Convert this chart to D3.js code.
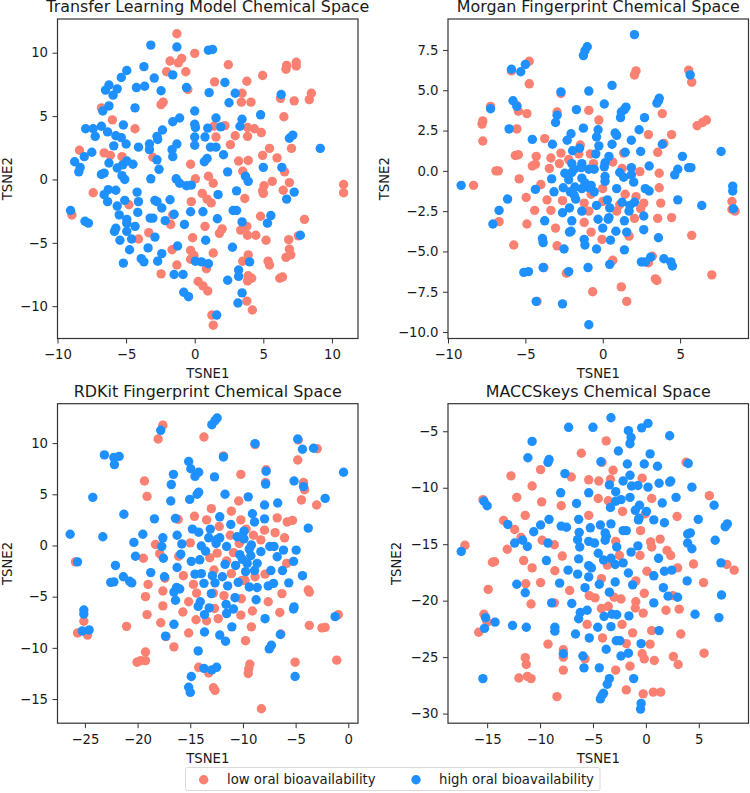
<!DOCTYPE html>
<html>
<head>
<meta charset="utf-8">
<script src="https://cdn.jsdelivr.net/npm/d3@7"></script>
<style>
html, body { margin: 0; padding: 0; background: #fff; }
svg { display: block; }
text { font-family: "DejaVu Sans", sans-serif; fill: #1a1a1a; }
</style>
</head>
<body>
<svg id="chart" width="750" height="793"></svg>
<script>
// Values, each point is [TSNE1, TSNE2]
var seriesNames = ["low oral bioavailability", "high oral bioavailability"];
var seriesColors = ["#fa8072", "#1e90ff"];
var titles = ["Transfer Learning Model Chemical Space", "Morgan Fingerprint Chemical Space", "RDKit Fingerprint Chemical Space", "MACCSkeys Chemical Space"];

var transferLow = [[-1.3,11.5],[0,9.95],[-1.8,9.35],[-1.2,9.2],[-0.95,9.55],[-2.05,8.5],[-0.65,8.5],[2.45,9.05],[6.7,9],[6.65,8.7],[7.4,9.25],[7.4,8.95],[4.95,8.2],[1.45,7.7],[3.8,7.75],[-0.5,7.1],[3.45,6.8],[3.4,6.1],[4.1,6.1],[8.5,6.8],[8.35,6.3],[7.25,6.2],[6.25,6.4],[-2.3,6.1],[-2.45,5.9],[-6.8,5.65],[-6,4.7],[6.5,4.95],[-4.35,4],[1.4,4.2],[2.2,4.25],[3.85,4.1],[4.35,4],[4.85,3.7],[3.85,3.4],[2.95,3.45],[1.55,3.35],[2.6,2.75],[5.45,2.45],[7.05,2.45],[-8.4,2.3],[-6.6,2.1],[-6.15,1.9],[-5.3,1.8],[-3.05,1.75],[4.95,1.9],[6,1.7],[3.2,1.45],[3.9,1.5],[-0.3,1.2],[6.55,0.6],[3.5,0.65],[1,0.25],[0.05,0.05],[1.35,-0.3],[5.65,-0.15],[6.9,-0.25],[5.05,-0.5],[4.95,-0.9],[10.85,-0.4],[10.85,-1.05],[-7.4,-1.05],[6.45,-0.85],[5,-1.1],[0.55,-1.1],[3.65,-1.5],[0.9,-1.55],[1.2,-1.85],[-4.8,-2],[-0.25,-1.75],[-8.95,-2.8],[-1.6,-2.8],[-1.75,-3.55],[4.8,-2.9],[8,-3.15],[0.75,-3.7],[3.8,-3.7],[3.35,-4],[2,-3.9],[1.8,-4.25],[3.85,-4.4],[4.45,-4.4],[-3.35,-4.2],[-4.1,-4.7],[-0.15,-4.6],[5.2,-4.8],[6.85,-4.75],[7.55,-4.45],[-1.65,-5.55],[-0.3,-5.6],[1.35,-5.8],[6.9,-5.5],[7,-5.95],[6.65,-6.15],[3.9,-5.95],[-0.05,-6],[-0.3,-6.3],[3.5,-6.45],[5.35,-6.45],[5.45,-6.75],[-1.3,-6.75],[0.85,-7.05],[-2.45,-7.45],[3.9,-7.6],[4.15,-7.8],[3.85,-8],[6.2,-7.8],[6.4,-7.7],[0.25,-8.05],[0.6,-8.4],[0.95,-8.8],[3.8,-9.6],[4.2,-10.3],[1.25,-10.7],[1.35,-11.5]];
var transferHigh = [[-3.2,10.6],[-1.3,10.45],[1,10.2],[1.3,10.25],[-3.7,8.9],[-4.95,8.6],[-5.35,8.05],[-2.95,8],[-1.6,8.25],[-6.25,7.45],[-6.5,7.05],[-5.65,7.15],[-5.95,6.65],[-4.25,7.25],[-3.65,7.35],[-2.45,7],[-0.6,7.25],[2.2,7.65],[1.05,6.85],[2.95,6.8],[6.3,6.7],[2.5,6.05],[-6.25,5.8],[-6.7,5.4],[-4.35,5.65],[0,5.4],[4.8,5.1],[-1.1,4.85],[-1.6,4.55],[1.55,4.85],[3.45,4.75],[3.3,4.2],[0,4.35],[0.05,4.1],[0.95,4.05],[1.9,4.15],[-5.2,4.3],[-7.95,4],[-7.4,4],[-6.8,4.2],[-7.25,3.4],[-6.35,3.75],[-5.75,3.45],[-5.35,3.3],[-5,2.8],[-5.9,2.65],[-2.35,3.9],[-2.75,3.4],[-2.7,3.15],[-3.3,2.8],[-3.3,2.35],[-4.1,2.55],[-1.3,2.8],[-1.65,2.35],[-1.6,1.8],[0,3.35],[0,2.7],[0.75,3.35],[1.15,2.55],[1.55,2.55],[2.1,1.95],[0.9,1.65],[0.7,1.4],[6.9,3.25],[7.15,3.5],[9.15,2.45],[-7.5,2.15],[-8.05,1.8],[-8.75,1.4],[-8.35,0.95],[-8.45,0.6],[-6.25,1.3],[-5.65,0.9],[-5.25,1.15],[-4.95,1.45],[-4.5,1.2],[-2.75,1.55],[-2.6,0.8],[-6.8,0.4],[-6.6,0.5],[-5.3,0.3],[-5.1,0],[-3.2,0.05],[5,0.95],[6.35,0.95],[2.4,0.6],[3.7,0.25],[3.9,-0.15],[-1.35,0.05],[-1.1,-0.3],[-0.6,-0.5],[-0.25,-0.45],[-6.3,-0.8],[-5.75,-0.85],[-6.6,-1.2],[-6.35,-1.75],[-4.2,-1],[3.05,-0.9],[7.25,-1],[1.7,-1.2],[6.7,-1.55],[-5.1,-1.65],[-5.65,-2.1],[-4.1,-1.75],[-2.9,-1.65],[-2.75,-1.75],[-1.8,-1.6],[-2.4,-2.25],[-9.05,-2.45],[-5.5,-2.8],[-4.15,-2.6],[-0.3,-2.55],[0.6,-2.55],[2.8,-2.45],[3.05,-2.45],[-1.5,-2.75],[-4.95,-3.15],[-4.95,-3.45],[-3.25,-3.05],[-3.05,-3.05],[-2.15,-3.25],[1.65,-3.1],[5.55,-2.85],[5.3,-3.45],[3.45,-3.35],[-0.75,-3.55],[-4.35,-3.7],[-8,-3.3],[-7.75,-3.45],[-5.75,-3.85],[-5.85,-4.1],[-4.95,-4.1],[-4.6,-4.7],[-5.45,-4.8],[-2.9,-4.55],[0.8,-4.8],[7.7,-4.4],[-3.4,-5.4],[-4.75,-5.55],[-1.25,-5.25],[2.75,-5.35],[-2.4,-5.85],[-3.9,-6.25],[-3.7,-6.5],[-5.2,-6.6],[-2.7,-6.45],[0.05,-6.45],[0.5,-6.5],[1,-6.65],[4,-6.5],[3.2,-7.15],[3.2,-7.65],[-1.5,-7.5],[-0.85,-7.5],[2.4,-7.95],[-0.8,-8.9],[-0.45,-9.25],[3.45,-8.95],[3.15,-9.75],[1.6,-10.7]];

var morganLow = [[-4.75,6.8],[-5.9,6.2],[5.55,6.25],[5.75,5.5],[2.15,6.2],[2.05,5.95],[-4.75,5.4],[-2.7,4.8],[-7.25,4],[-5.55,4.05],[-5.45,3.7],[-4.9,3.55],[-2.95,3.65],[-0.9,3.75],[-0.25,3.15],[3.85,3.55],[-7.75,3.1],[-7.8,2.9],[6.7,3.15],[6.45,3],[6.1,2.8],[-5.55,2.6],[-3.75,2],[2.95,2.25],[4.45,2.25],[-7.75,1.85],[-1.45,1.6],[3.95,1.7],[-5.45,1],[-5.65,0.95],[-4.3,0.9],[-2.7,1.1],[-0.8,1.05],[-1.55,1.05],[-3.35,0.8],[1.35,1.1],[3.55,1.15],[-4.35,0.4],[-4.55,0.3],[-2.8,0.45],[-2.2,0.7],[-0.6,0.45],[0.65,0.55],[-3.45,0.15],[1.25,0.15],[-6.9,0],[-6.75,0],[2.4,-0.05],[3.65,-0.15],[-5.4,-0.5],[-8.35,-0.9],[-4,-0.85],[3.65,-1.05],[0,-1.1],[-4.95,-1.65],[-3.6,-1.8],[-2.6,-1.85],[-0.75,-1.45],[1.45,-1.45],[2.15,-1.6],[0,-1.9],[-1.2,-2],[1.1,-2.1],[2.65,-2],[3.75,-2],[-4.4,-2.45],[-3.35,-2.45],[-0.9,-2.5],[0.9,-2.5],[2.45,-2.35],[8.35,-1.9],[8.35,-2.4],[8.55,-2.5],[-6.7,-3.15],[-4.9,-3.3],[-1.2,-3.2],[2.05,-2.95],[3.55,-2.95],[4.45,-2.9],[-3.05,-3.55],[-0.75,-3.8],[5.75,-4],[1.7,-4.05],[-0.05,-4.25],[-5.75,-4.6],[-2.95,-4.65],[0.65,-5.55],[3.2,-5.3],[2.95,-5.7],[-3.8,-6],[-2.35,-6.35],[7.05,-6.45],[3.4,-6.7],[3.5,-6.8],[1.2,-7.2],[-0.65,-7.5],[-4.25,-8.1],[1.55,-8.1]];
var morganHigh = [[2.05,8.45],[-1,7.7],[-1.15,7.45],[-1.25,7.15],[-5.9,6.3],[-5.3,6.15],[-5,6.6],[5.65,5.95],[0.6,5.3],[-2.7,4.9],[-0.9,4.95],[3.65,4.5],[3.6,4.35],[3.5,4.2],[0.1,4.15],[-5.8,4.35],[-5.55,4],[-7.25,3.85],[-1.7,3.8],[1.5,3.95],[1.4,3.8],[1.2,3.65],[1.15,3.3],[2.7,3.3],[-2.95,3.45],[-3.05,3],[-6.05,2.6],[-1.25,2.65],[-0.3,2.55],[2.35,2.55],[-0.4,2.1],[0.8,2.35],[0.9,2.2],[-2.05,2.3],[-2.3,1.9],[-4.55,1.95],[-3.25,1.65],[1.85,1.9],[-0.25,1.55],[0.6,1.65],[3.85,1.65],[-1.95,1.25],[-1.5,1.4],[-0.45,1.05],[1.45,1.15],[2.45,1.2],[7.65,1.2],[0.4,0.9],[5.15,0.9],[0.15,0.5],[0.1,0.25],[-2,0.45],[-1.35,0.45],[3,0.3],[-1.85,0.1],[-1.4,0.2],[-0.9,0.1],[-0.55,0.1],[1.85,0.2],[5.55,0.2],[5.7,0.2],[4.85,0.1],[4.65,-0.25],[-2.45,-0.15],[-2,-0.1],[1.1,-0.1],[0.15,-0.35],[-1.35,-0.45],[1.35,-0.4],[1.85,-0.25],[-3.3,-0.5],[-2.2,-0.55],[0.15,-0.65],[-1.15,-0.75],[2,-0.7],[-9.15,-0.9],[8.4,-0.95],[8.4,-1.25],[-1.8,-1],[-0.75,-0.9],[-2.55,-1.05],[-1.35,-1.1],[-0.9,-1.05],[-0.55,-1.3],[0.9,-1.1],[-4.35,-1.15],[2.75,-1.1],[3,-1.25],[-3.15,-1.3],[-2.1,-1.3],[-1.85,-1.5],[-1.75,-1.75],[-6.15,-1.75],[0.3,-1.8],[1.25,-1.95],[2.05,-1.95],[4.85,-1.8],[-0.4,-2.15],[0.45,-2.3],[1.75,-2.15],[1.7,-2.5],[-2.15,-2.3],[6.4,-2.15],[-6.7,-2.45],[8.45,-2.35],[-1.35,-2.5],[-2.6,-2.6],[2.65,-2.8],[0.4,-2.9],[0.35,-3],[-0.3,-3],[-3.75,-3.1],[-2,-3.1],[1.4,-3.1],[-7.1,-3.3],[0,-3.55],[0.85,-3.75],[2.65,-3.65],[-2.05,-3.75],[-2.15,-3.8],[1.55,-3.8],[3.6,-4.15],[-3.9,-4.2],[-3.85,-4.45],[-1.2,-4.25],[-1.15,-4.6],[0.5,-4.3],[-2.5,-4.85],[-0.4,-4.85],[1.4,-4.9],[3.1,-5.35],[2.5,-5.65],[2.75,-5.65],[3.95,-5.45],[4.4,-5.65],[4.5,-5.9],[0.45,-5.8],[-0.95,-6],[-3.85,-6],[-5.1,-6.3],[-4.8,-6.25],[-2.2,-6.25],[-4.3,-8.1],[-2.6,-8.25],[-0.9,-9.55]];

var rdkitLow = [[-17.6,11.75],[-18.05,10.4],[-13.7,10.6],[-8.85,9.85],[-11.85,8.75],[-4.75,10.3],[-2.95,9.45],[-4.8,8.35],[-7.8,7.4],[-7.85,6.15],[-10.2,6.95],[-19.35,6.3],[-19.1,4.8],[-4.25,6.15],[-4.15,5.45],[-4.45,4.45],[-3,3.95],[-10.4,4.35],[-13,3.6],[-11.1,3.35],[-14.6,2.85],[-13.45,2.5],[-10.2,2.5],[-16.15,2.55],[-6.75,2.7],[-5.8,2.3],[-5.3,2.45],[-12.25,1.85],[-9.7,1.6],[-7.95,1.5],[-6.95,1.25],[-11.2,1],[-9,1],[-6.05,0.75],[-8.3,0.55],[-15,0.25],[-18.3,0.1],[-10.35,0.2],[-12.45,-0.75],[-10.9,-0.7],[-17.9,-0.8],[-16.1,-1.05],[-13.15,-1.2],[-19.45,-1.25],[-11.55,-1.5],[-25.9,-1.6],[-5.85,-1.75],[-15.65,-2.95],[-12.75,-2.4],[-11.1,-2.75],[-7.9,-2.8],[-17.4,-3.2],[-9.8,-3.4],[-8.85,-3.05],[-19,-3.8],[-14.7,-3.8],[-17.6,-4.45],[-14.4,-4.65],[-10.15,-3.45],[-12.8,-4.65],[-11.8,-4.9],[-19.25,-5],[-10.15,-5.2],[-6.3,-4.7],[-3.8,-4.35],[-3.7,-4.55],[-15.15,-5.5],[-17.6,-5.9],[-7.6,-5.5],[-12.7,-6.15],[-15.7,-6.5],[-9.1,-6.4],[-6.5,-6.55],[-19.1,-6.75],[-10.2,-6.8],[-0.95,-6.75],[-14.45,-7.25],[-13.45,-7.35],[-12.35,-7.15],[-17.8,-7.55],[-21.05,-7.9],[-9.2,-7.95],[-3.7,-7.8],[-2.5,-8.05],[-2.2,-8],[-25.1,-7.4],[-25.7,-8.55],[-24.75,-8.75],[-15.15,-8.55],[-17.3,-8.9],[-6.4,-8.65],[-9.75,-9.3],[-16.55,-9.9],[-19.25,-10.4],[-20.05,-11.4],[-19.7,-11.25],[-19.25,-11.25],[-5.05,-11.4],[-1.1,-11.2],[-9.35,-11.6],[-9.45,-12.05],[-9.5,-12.5],[-14.2,-11.9],[-13.25,-12.45],[-12.8,-13.9],[-12.65,-14.15],[-8.25,-15.95]];
var rdkitHigh = [[-12.45,12.45],[-12.65,12.2],[-12.95,11.8],[-17.8,11.25],[-8.85,9.95],[-4.8,10.4],[-4.35,9.4],[-3.3,9.5],[-23.15,8.85],[-22.25,8.6],[-21.75,8.7],[-22.2,7.9],[-11.85,8.65],[-15.15,8.2],[-14.95,7.5],[-14.2,7.15],[-14.55,6.75],[-16.6,6.95],[-12.7,6.7],[-7.8,7.25],[-0.45,7.15],[-16.8,5.95],[-5.15,6.3],[-7.85,6],[-4.25,5.75],[-14.2,5.2],[-14.35,5],[-11.7,5],[-24.25,4.7],[-16.85,4.35],[-15.05,4.5],[-9.5,4.75],[-2.2,4.6],[-6.7,4.15],[-7.95,3.95],[-21.3,3.05],[-9.1,3.1],[-18.4,2.6],[-16.4,2.65],[-12.2,2.8],[-7.95,2.6],[-8.9,2.3],[-11.15,2.05],[-3.8,1.7],[-14.8,1.6],[-14.2,1.3],[-13.1,1.6],[-9.9,1.4],[-26.4,1.1],[-19.5,1.1],[-16.25,1],[-23.3,0.85],[-13.25,0.75],[-12.2,0.75],[-12.45,0.6],[-10.55,0.85],[-10.1,0.85],[-9.9,0.65],[-17.6,0.75],[-20.35,0.3],[-15.8,0.15],[-12.55,0.2],[-9.2,0.05],[-17.7,-0.1],[-13.95,-0.05],[-13.55,-0.55],[-11.55,-0.1],[-7.45,-0.1],[-7.05,-0.1],[-6.15,-0.45],[-4.95,-0.45],[-9.4,-0.35],[-8.3,-0.6],[-15.9,-0.85],[-10.3,-0.9],[-9.25,-1],[-6.75,-1.1],[-20.2,-1.05],[-17.55,-1.25],[-14.1,-1.4],[-14.9,-1.55],[-10.05,-1.35],[-25.7,-1.6],[-5.2,-1.55],[-9.6,-1.75],[-8.65,-1.75],[-11.7,-1.85],[-10.7,-1.95],[-22.1,-1.95],[-16.25,-2.15],[-8.9,-2.45],[-7.35,-2.45],[-6.25,-2.45],[-18.75,-2.65],[-14.55,-2.8],[-13.95,-2.75],[-12.9,-2.95],[-9.75,-2.55],[-4.35,-2.95],[-21.35,-3.05],[-17.45,-3.05],[-13.7,-3.7],[-12.65,-3.65],[-11.95,-3.05],[-11.45,-3.95],[-10.45,-3.6],[-9.4,-4.05],[-8.65,-4.1],[-7.6,-3.95],[-7.1,-3.7],[-5.65,-3.65],[-22.55,-3.6],[-22.25,-3.55],[-20.75,-3.5],[-20.55,-3.65],[-16.3,-4.1],[-16,-4.25],[-16.55,-4.55],[-16.4,-5.35],[-13,-4.7],[-14.05,-5.5],[-14.25,-5.95],[-13.2,-6.1],[-11.6,-5.75],[-10.75,-5.1],[-8.75,-5.3],[-10.9,-6.2],[-11.55,-6.65],[-13.65,-6.75],[-5.15,-6],[-5.2,-6.2],[-25.1,-6.3],[-25.1,-6.7],[-7.9,-7.15],[-1.25,-6.95],[-16.55,-7.7],[-11.05,-7.95],[-25.25,-8.35],[-24.6,-8.25],[-13.65,-8.45],[-17.35,-8.85],[-12.2,-8.75],[-6.45,-8.7],[-11.65,-9.35],[-7.3,-9.75],[-7.5,-10.1],[-14.25,-10.3],[-13.7,-12],[-12.95,-12.15],[-12.5,-11.9],[-5.05,-12.8],[-14.9,-12.8],[-15.15,-13.85],[-15,-14.35]];

var maccsLow = [[-3.75,-5.85],[-6.1,-6.95],[3.8,-7.75],[-4.15,-7.75],[-3.1,-8.45],[-12.75,-8.95],[-9.95,-8.4],[-7.05,-9.05],[-0.35,-9.15],[-3.35,-9.25],[-5.4,-9.3],[-4.45,-9.4],[-10.75,-9.85],[-12.2,-10.85],[-4.5,-10.95],[-3.55,-11.15],[0.55,-10.95],[6,-10.7],[-9.85,-11.25],[-15.4,-11.05],[-8,-11.6],[-2.2,-12.1],[-0.05,-12.3],[-11.4,-12.45],[-5.4,-12.45],[2.95,-12.55],[-13.45,-12.9],[-12.4,-13.7],[-0.5,-13.8],[-11.8,-14.4],[-9.8,-14.65],[-2.85,-14.75],[1.35,-14.55],[0.45,-14.8],[0.55,-15.25],[-8.65,-15.05],[2,-15.55],[2.35,-16],[-17.1,-15.1],[-13.1,-15.45],[-7.9,-16.05],[-2.5,-16],[-0.55,-16],[-14.5,-16.6],[-14.3,-16.55],[-11.55,-16.45],[4.5,-16.75],[-3.65,-16.85],[-10.75,-17.1],[-8.6,-17.35],[0.1,-17.4],[3,-17.1],[7.65,-16.8],[8.35,-17.3],[-4.2,-18.05],[-0.95,-18.25],[-11.35,-18.5],[-9.95,-18.4],[5.45,-18.4],[-14.9,-19],[-7.2,-19.1],[-5.35,-19.55],[-4.8,-19.75],[-3,-19.7],[-2.35,-19.85],[-0.15,-19.35],[2.55,-19.55],[-0.95,-20.1],[-1,-20.65],[-0.25,-21.1],[-10.85,-20.3],[-8.65,-20.2],[-3.55,-20.5],[-4.2,-20.7],[1.9,-20.85],[3.15,-20.75],[-15.3,-21.2],[-15,-21.9],[-15.8,-22.8],[-5.55,-22.1],[-2.25,-22.1],[0.55,-22.65],[-1.25,-22.85],[3.3,-22.95],[-4.1,-23.3],[-9.25,-23.85],[-1.85,-23.8],[0.4,-23.85],[-7.8,-24.35],[-0.35,-24.7],[-0.15,-25.15],[-7.8,-25],[-11.4,-25.05],[-11.3,-25.65],[-5.75,-25.15],[0.8,-25.3],[2.6,-24.95],[5.5,-24.65],[3.05,-25.65],[-1.5,-25.8],[-7.8,-26.15],[-2.85,-26.15],[-12,-26.85],[-11.2,-26.7],[-10.85,-26.9],[-1.85,-27.9],[-0.25,-28.25],[0.7,-28.1],[1.4,-28.1],[-8.4,-28.5]];
var maccsHigh = [[-3.3,-3.8],[0.2,-4.3],[-0.4,-4.7],[-7.3,-4.65],[-5,-4.65],[-1.65,-4.95],[-1.4,-5.55],[-1.5,-6.1],[2.25,-5.4],[-10.75,-5.9],[-2.6,-6.75],[0.4,-7],[-11.15,-7.35],[-9.15,-7.5],[-9.25,-7.75],[-4.25,-7.7],[-1.75,-7.9],[-0.15,-7.9],[1.1,-8.1],[4,-7.85],[-7.65,-8.75],[-1.5,-8.9],[-2.15,-9.4],[2.25,-9.5],[2.35,-9.4],[1.25,-9.6],[-1.35,-9.85],[-0.75,-9.8],[-3.45,-9.75],[0.2,-9.95],[4.35,-9.95],[-2.85,-10.35],[-8.05,-10.45],[-5.4,-10.45],[-1.5,-10.85],[-2.35,-11.05],[-2.85,-11.2],[2.85,-10.85],[-15.3,-11.2],[-15,-11.6],[-6.55,-11.4],[1.55,-11.35],[-0.6,-11.55],[-3.35,-11.75],[6.45,-11.55],[-1,-12],[0.05,-12.1],[-9.15,-12.8],[-6.35,-12.8],[-0.7,-12.85],[-0.65,-12.7],[0.75,-12.85],[4.95,-12.8],[1.75,-13.1],[-9.95,-13.3],[-13.05,-13.25],[-8,-13.4],[-7.5,-13.5],[-5.25,-13.55],[-4.3,-13.3],[-3.3,-13.2],[-2.15,-13.8],[-1.85,-13.8],[7.7,-13.2],[7.5,-13.45],[-10.6,-13.9],[-6.3,-13.95],[-3.85,-14],[-3.75,-14.3],[3.95,-14.1],[4.2,-14],[-6.45,-14.6],[-3.85,-14.65],[6.55,-14.65],[-11.65,-14.65],[-12.4,-14.9],[-9.25,-14.9],[-5.4,-14.75],[-4.85,-14.9],[-11.2,-15.2],[-6.25,-15.25],[-2.75,-15.25],[-0.75,-15.15],[3.95,-14.9],[4.35,-15.4],[-17.45,-15.65],[-1.4,-15.7],[-4.5,-15.8],[-6.35,-16.3],[-4,-16.4],[-3.3,-16.25],[-9.4,-16.45],[1.2,-16.25],[-2.15,-16.65],[-2.9,-16.8],[-5.4,-16.9],[-5.15,-17.1],[7.1,-16.65],[-7.35,-17.3],[1.75,-17.4],[2.45,-17.3],[-1.65,-17.55],[0.75,-17.8],[-6.45,-17.65],[-5.4,-17.9],[1.65,-18.85],[3.9,-18.25],[-12.2,-18.55],[-8.15,-18.45],[-5.75,-18.85],[-4.4,-18.55],[-2.9,-18.35],[-1.25,-18.6],[-3.45,-19.25],[-11.4,-19.3],[7.15,-19.5],[2.1,-19.6],[3,-19.7],[-8.9,-20.2],[-7,-20.25],[0.75,-20.2],[-5.55,-20.85],[-6.2,-21.05],[-6.35,-21.6],[-3.95,-21.4],[-3.2,-21.2],[-2.75,-21.25],[-1.6,-21.35],[4.65,-21.2],[6.9,-21.5],[-15.15,-21.5],[-14.25,-21.9],[-15.25,-22.45],[-12.6,-22.2],[-11.3,-22.35],[-8.6,-22.35],[-8.6,-22.7],[-4.55,-22.35],[-3.3,-22.3],[1.25,-22.65],[-6.65,-22.95],[-5.35,-23.3],[-2.8,-23.55],[-2.45,-23.55],[-0.45,-23.8],[-3.75,-24.3],[-7.8,-24.7],[-5.95,-24.9],[-2.35,-24.9],[-1.65,-24.65],[-5.85,-25.95],[-4.4,-25.95],[-1.15,-26.9],[-15.4,-26.9],[-3.45,-26.9],[-3.65,-27.4],[-4,-28.2],[-4.15,-28.4],[-4.3,-28.7],[-0.45,-29.1],[-0.5,-29.6]];

// Axis limits and tick labels for each panel
var xDomains = [[-10, 11.9], [-10, 9.42], [-27.6, 0.92], [-18.7, 9.7]];
var yDomains = [[-12.55, 12.66], [-10.4, 9.42], [-17.36, 13.85], [-30.85, -2.56]];
var xTicks = [[-10, -5, 0, 5, 10], [-10, -5, 0, 5], [-25, -20, -15, -10, -5, 0], [-15, -10, -5, 0, 5]];
var yTicks = [[-10, -5, 0, 5, 10], [-10, -7.5, -5, -2.5, 0, 2.5, 5, 7.5], [-15, -10, -5, 0, 5, 10], [-30, -25, -20, -15, -10, -5]];
var yFormats = ["d", ".1f", "d", "d"];
var lowSeries = [transferLow, morganLow, rdkitLow, maccsLow];
var highSeries = [transferHigh, morganHigh, rdkitHigh, maccsHigh];

var lefts = [57.5, 448, 57.5, 448];
var tops = [19, 19, 403.7, 403.7];
var ylabelX = [7.5, 384.5, 7.5, 396.7];
var plotW = 300.5;
var plotH = 319.5;
var dotR = 4.7;
var labelSize = "13.25px";

var svg = d3.select("#chart");

function drawPanel(i) {
    var g = svg.append("g")
        .attr("transform", "translate(" + lefts[i] + "," + tops[i] + ")");
    var x = d3.scaleLinear().domain(xDomains[i]).range([0, plotW]);
    var y = d3.scaleLinear().domain(yDomains[i]).range([plotH, 0]);

    // low first so the blue dots sit on top
    [lowSeries[i], highSeries[i]].forEach(function(points, s) {
        g.append("g").selectAll("circle")
            .data(points)
            .join("circle")
            .attr("cx", function(d) { return x(d[0]); })
            .attr("cy", function(d) { return y(d[1]); })
            .attr("r", dotR)
            .attr("fill", seriesColors[s]);
    });

    var xAxis = d3.axisBottom(x).tickValues(xTicks[i]).tickSize(5).tickPadding(6).tickFormat(d3.format("d"));
    var yAxis = d3.axisLeft(y).tickValues(yTicks[i]).tickSize(5).tickPadding(4.5).tickFormat(d3.format(yFormats[i]));
    var gx = g.append("g").attr("transform", "translate(0," + plotH + ")").call(xAxis);
    var gy = g.append("g").call(yAxis);
    [gx, gy].forEach(function(a) {
        a.select(".domain").remove();
        a.selectAll("text").attr("font-size", labelSize).attr("font-family", "DejaVu Sans");
        a.selectAll("line").attr("stroke", "#333");
    });

    g.append("rect")
        .attr("width", plotW)
        .attr("height", plotH)
        .attr("fill", "none")
        .attr("stroke", "#333")
        .attr("stroke-width", 1.2);

    g.append("text")
        .attr("x", plotW / 2)
        .attr("y", -7)
        .attr("text-anchor", "middle")
        .attr("font-size", "15.9px")
        .text(titles[i]);

    g.append("text")
        .attr("x", plotW / 2)
        .attr("y", plotH + 39.5)
        .attr("text-anchor", "middle")
        .attr("font-size", labelSize)
        .text("TSNE1");

    svg.append("text")
        .attr("transform", "translate(" + ylabelX[i] + "," + (tops[i] + plotH / 2) + ") rotate(-90)")
        .attr("text-anchor", "middle")
        .attr("dominant-baseline", "central")
        .attr("font-size", labelSize)
        .text("TSNE2");
}

d3.range(4).forEach(drawPanel);

// Legend along the bottom
var legend = svg.append("g");
legend.append("rect")
    .attr("x", 185.5)
    .attr("y", 767.5)
    .attr("width", 414.5)
    .attr("height", 23)
    .attr("rx", 2)
    .attr("fill", "#fff")
    .attr("stroke", "#d9d9d9");

var legendDotX = [203.7, 416];
var legendTextX = [227, 439];
seriesNames.forEach(function(name, s) {
    legend.append("circle")
        .attr("cx", legendDotX[s])
        .attr("cy", 779.7)
        .attr("r", dotR)
        .attr("fill", seriesColors[s]);
    legend.append("text")
        .attr("x", legendTextX[s])
        .attr("y", 783.5)
        .attr("font-size", labelSize)
        .text(name);
});
</script>
</body>
</html>
